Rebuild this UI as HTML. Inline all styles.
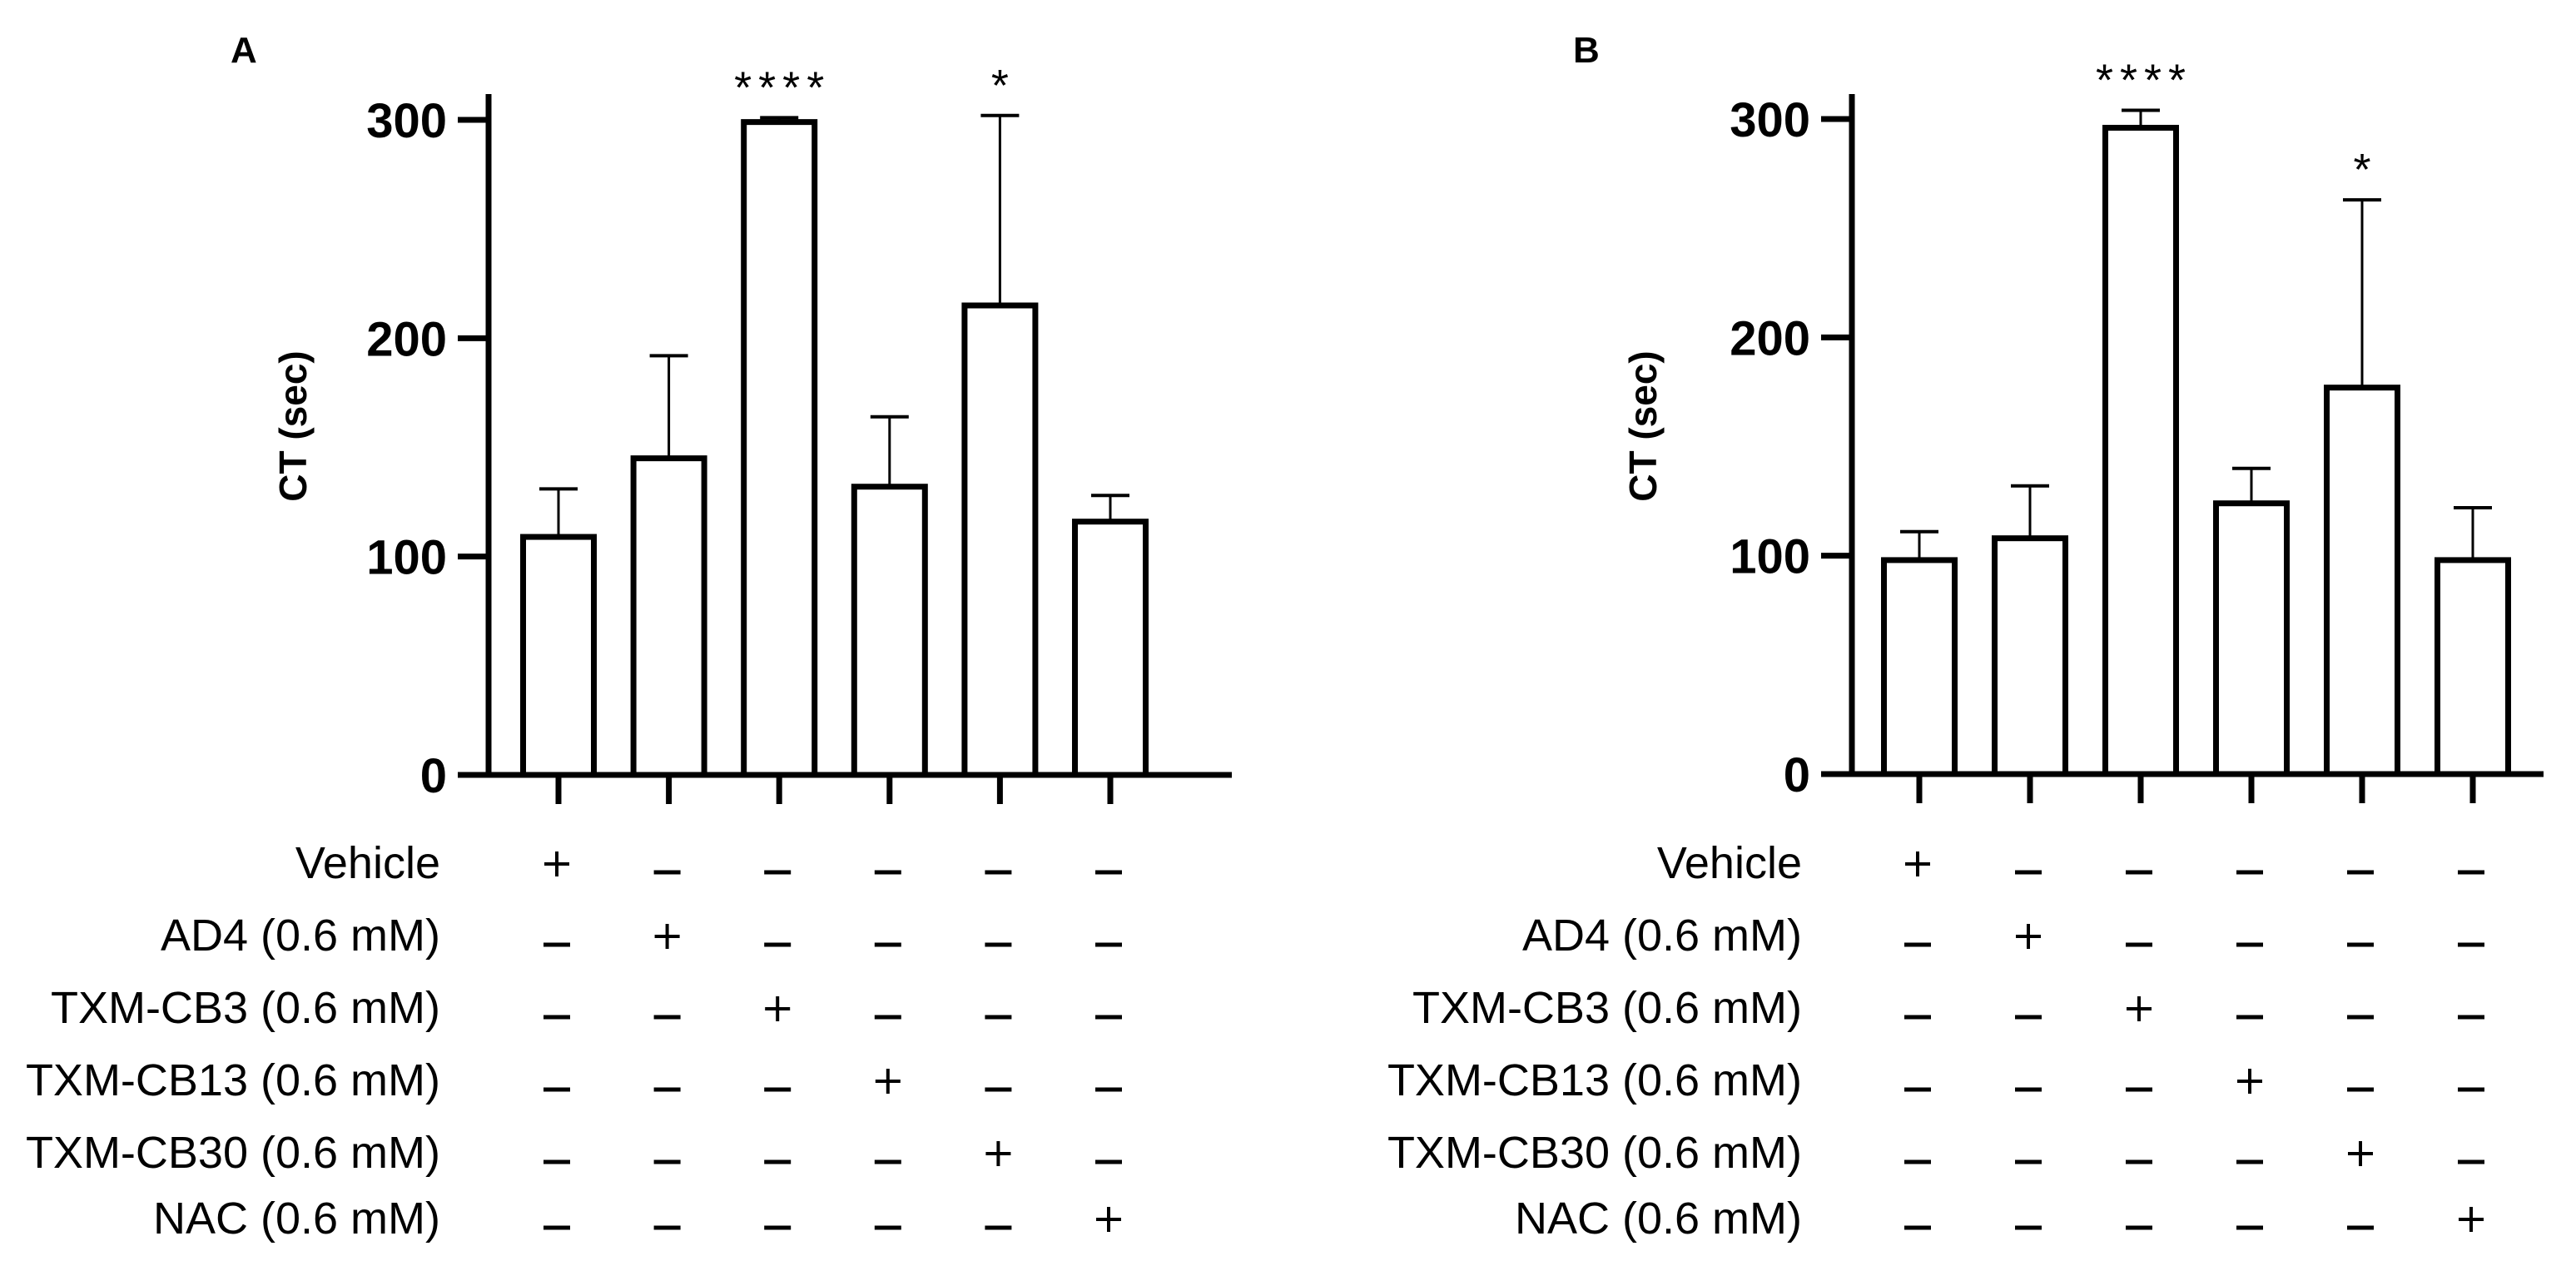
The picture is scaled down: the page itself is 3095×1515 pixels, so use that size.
<!DOCTYPE html>
<html><head><meta charset="utf-8">
<style>
html,body{margin:0;padding:0;background:#fff;}
svg{display:block;}
text{font-family:"Liberation Sans",Arial,sans-serif;fill:#000;}
</style></head>
<body>
<svg id="fig" width="3095" height="1515" viewBox="0 0 3095 1515" xmlns="http://www.w3.org/2000/svg"></svg>
<script>
const categories = ["Vehicle","AD4 (0.6 mM)","TXM-CB3 (0.6 mM)","TXM-CB13 (0.6 mM)","TXM-CB30 (0.6 mM)","NAC (0.6 mM)"];
const valuesA = [109, 145, 299, 132, 215, 116];
const errorsA = [131, 192, 301, 164, 302, 128];
const valuesB = [98, 108, 296, 124, 177, 98];
const errorsB = [111, 132, 304, 140, 263, 122];
const sigA = ["", "", "****", "", "*", ""];
const sigB = ["", "", "****", "", "*", ""];
const yTicks = [0, 100, 200, 300];

const NS = "http://www.w3.org/2000/svg";
const svg = document.getElementById("fig");
function mk(tag, attrs, parent){
  const e = document.createElementNS(NS, tag);
  for (const k in attrs) e.setAttribute(k, attrs[k]);
  (parent||svg).appendChild(e);
  return e;
}
const rowBase = [1055, 1142, 1229, 1316, 1403, 1482];

function panel(cfg){
  const g = mk("g", {});
  
  
  const y = v => cfg.y0 - (cfg.y0 - cfg.y300) * v / 300;
  const xc = i => cfg.c0 + cfg.step * i;

  const lt = mk("text", {x: cfg.letterX, y: 75, "font-size": 44, "font-weight": "bold"}, g);
  lt.textContent = cfg.id;
  
  

  const ya = mk("line", {x1: cfg.ax, x2: cfg.ax, y1: 113, y2: cfg.y0 + 3.5, stroke: "#000", "stroke-width": 7}, g);
  
  
  yTicks.forEach(t => {
    const tk = mk("line", {x1: cfg.ax - 37, x2: cfg.ax, y1: y(t), y2: y(t), stroke: "#000", "stroke-width": 7}, g);
    
    
    const tl = mk("text", {x: cfg.ax - 50, y: y(t) + 21, "font-size": 58, "font-weight": "bold", "text-anchor": "end"}, g);
    tl.textContent = t;
    
    
  });
  const yt = mk("text", {x: 0, y: 0, "font-size": 46, "font-weight": "bold", "text-anchor": "middle",
    transform: "translate(" + (cfg.titleX + 6) + ",512) rotate(-90)"}, g);
  yt.textContent = "CT (sec)";
  
  

  const xa = mk("line", {x1: cfg.ax - 3.5, x2: cfg.xEnd, y1: cfg.y0, y2: cfg.y0, stroke: "#000", "stroke-width": 7}, g);
  
  

  cfg.vals.forEach((v, i) => {
    const c = xc(i);
    const el = mk("line", {x1: c, x2: c, y1: y(v), y2: y(cfg.errs[i]), stroke: "#000", "stroke-width": 3}, g);
    
    
    const ec = mk("line", {x1: c - cfg.cap / 2, x2: c + cfg.cap / 2, y1: y(cfg.errs[i]), y2: y(cfg.errs[i]), stroke: "#000", "stroke-width": 4}, g);
    
    
    const r = mk("rect", {x: c - cfg.bw / 2 + 3.5, y: y(v), width: cfg.bw - 7, height: cfg.y0 - y(v), fill: "#fff", stroke: "#000", "stroke-width": 7}, g);
    
    
    const xt = mk("line", {x1: c, x2: c, y1: cfg.y0, y2: cfg.y0 + 35, stroke: "#000", "stroke-width": 7}, g);
    
    
    if (cfg.sig[i]) {
      const s = mk("text", {x: c + 4, y: y(cfg.errs[i]) - 18, "font-size": 54, "text-anchor": "middle", "letter-spacing": 8}, g);
      s.textContent = cfg.sig[i];
      
      
    }
  });

  categories.forEach((name, r) => {
    const b = rowBase[r];
    const lab = mk("text", {x: cfg.labelRight, y: b, "font-size": 54, "text-anchor": "end"}, g);
    lab.textContent = name;
    
    
    cfg.vals.forEach((v, i) => {
      const c = xc(i) - 2;
      if (i === r) {
        const p = mk("path", {d: "M" + (c - 15) + " " + (b - 17) + "H" + (c + 15) + "M" + c + " " + (b - 32) + "V" + (b - 2), stroke: "#000", "stroke-width": 4, fill: "none"}, g);
        
        
      } else {
        const m = mk("line", {x1: c - 16, x2: c + 16, y1: b - 7, y2: b - 7, stroke: "#000", "stroke-width": 5}, g);
        
        
      }
    });
  });
}

panel({id: "A", letterX: 277, ax: 587, y0: 931, y300: 144, c0: 671, step: 132.6, bw: 92, cap: 46,
  xEnd: 1480, titleX: 362, labelRight: 529, vals: valuesA, errs: errorsA, sig: sigA});
panel({id: "B", letterX: 1890, ax: 2225, y0: 930, y300: 143, c0: 2306, step: 133, bw: 92, cap: 46,
  xEnd: 3056, titleX: 1984, labelRight: 2165, vals: valuesB, errs: errorsB, sig: sigB});
</script>
</body></html>
